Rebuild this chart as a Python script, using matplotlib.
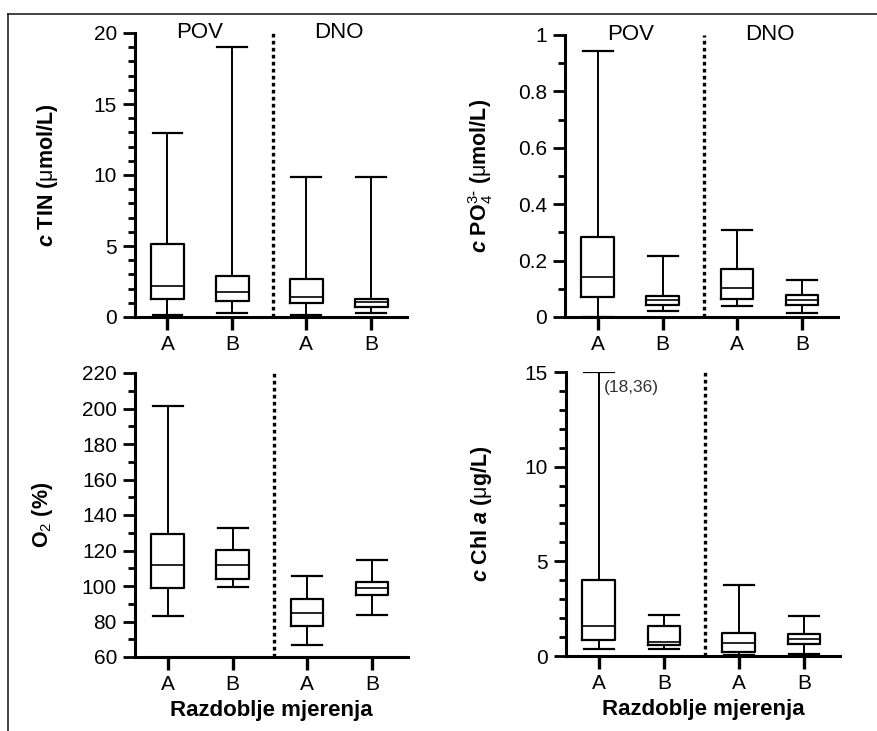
import matplotlib
matplotlib.use("Agg")
import matplotlib.pyplot as plt
from matplotlib.lines import Line2D
from matplotlib.ticker import MultipleLocator, FuncFormatter

plt.rcParams["font.family"] = ["Liberation Sans", "DejaVu Sans"]
plt.rcParams["mathtext.fontset"] = "custom"
plt.rcParams["mathtext.rm"] = "Liberation Sans:bold"
plt.rcParams["mathtext.it"] = "Liberation Sans:italic:bold"
plt.rcParams["mathtext.bf"] = "Liberation Sans:bold"
plt.rcParams["mathtext.sf"] = "Liberation Sans"

# Groups: surface (POV) and bottom (DNO), each with periods A and B
categories = ["A", "B", "A", "B"]
groups = ["POV", "DNO"]

# Box statistics per category: (whisker low, Q1, median, Q3, whisker high)
tin_low = [0.14, 0.30, 0.13, 0.30]
tin_q1 = [1.30, 1.15, 1.00, 0.68]
tin_med = [2.18, 1.74, 1.43, 1.03]
tin_q3 = [5.14, 2.90, 2.70, 1.27]
tin_high = [12.98, 19.00, 9.88, 9.88]

po4_low = [0.00, 0.020, 0.038, 0.014]
po4_q1 = [0.071, 0.044, 0.065, 0.042]
po4_med = [0.142, 0.059, 0.103, 0.059]
po4_q3 = [0.284, 0.076, 0.170, 0.077]
po4_high = [0.943, 0.215, 0.310, 0.130]

o2_low = [83.0, 99.2, 67.0, 83.5]
o2_q1 = [99.0, 104.0, 77.3, 95.2]
o2_med = [111.8, 112.1, 85.0, 99.0]
o2_q3 = [129.1, 120.2, 92.6, 102.3]
o2_high = [201.5, 132.8, 105.5, 114.4]

chl_low = [0.35, 0.39, 0.07, 0.13]
chl_q1 = [0.87, 0.60, 0.21, 0.66]
chl_med = [1.57, 0.74, 0.69, 0.92]
chl_q3 = [4.01, 1.57, 1.19, 1.15]
chl_high = [18.36, 2.19, 3.74, 2.12]

positions = [1.0, 2.0, 3.14, 4.14]
divider_x = 2.63

TICK_FS = 15
LABEL_FS = 15.5
GROUP_FS = 16

W, H = 877, 731
fig = plt.figure(figsize=(W / 100, H / 100), dpi=100)


def px_axes(left, right, top, bottom):
    return fig.add_axes([left / W, 1 - bottom / H, (right - left) / W, (bottom - top) / H])


def draw_panel(ax, low, q1, med, q3, high, ylim, major, minor, ylabel,
               label_x, show_groups=False, xlabel=None, clip_note=False):
    ymin, ymax = ylim
    stats = []
    for lo, a, m, b, hi in zip(low, q1, med, q3, high):
        stats.append(dict(whislo=lo, q1=a, med=m, q3=b, whishi=min(hi, ymax), fliers=[]))
    ax.bxp(stats, positions=positions, widths=0.5, capwidths=0.46,
           showfliers=False, patch_artist=False,
           boxprops=dict(color="black", linewidth=1.6),
           whiskerprops=dict(color="black", linewidth=1.4),
           capprops=dict(color="black", linewidth=1.6),
           medianprops=dict(color="black", linewidth=1.2))
    ax.set_xlim(0.5, 4.69)
    ax.set_ylim(ymin, ymax)
    ax.axvline(divider_x, color="black", linewidth=2.4, linestyle=(0, (1.1, 1.0)),
               clip_on=False)

    for side in ("top", "right"):
        ax.spines[side].set_visible(False)
    for side in ("left", "bottom"):
        ax.spines[side].set_linewidth(2.2)

    ax.yaxis.set_major_locator(MultipleLocator(major))
    ax.yaxis.set_minor_locator(MultipleLocator(minor))
    ax.tick_params(axis="y", which="major", length=9, width=2, labelsize=TICK_FS, pad=4)
    ax.tick_params(axis="y", which="minor", length=5, width=2)
    ax.set_xticks(positions)
    ax.set_xticklabels(categories)
    ax.tick_params(axis="x", which="major", length=9, width=2.4, labelsize=TICK_FS, pad=4)
    ax.tick_params(axis="x", which="minor", length=0)
    ax.yaxis.set_major_formatter(FuncFormatter(lambda v, p: f"{v:g}"))

    ax.set_ylabel(ylabel, fontsize=LABEL_FS, fontweight="bold", va="center")
    ax.yaxis.set_label_coords(label_x, 0.5)

    if show_groups:
        ax.text((positions[0] + positions[1]) / 2, ymax, groups[0], ha="center",
                va="center", fontsize=GROUP_FS)
        ax.text((positions[2] + positions[3]) / 2, ymax, groups[1], ha="center",
                va="center", fontsize=GROUP_FS)
    if xlabel:
        ax.set_xlabel(xlabel, fontsize=16, fontweight="bold", labelpad=4)
    if clip_note:
        for x, hi in zip(positions, high):
            if hi > ymax:
                note = "({:.2f})".format(hi).replace(".", ",")
                ax.annotate(note, (x, ymax), xytext=(4, -11), textcoords="offset points",
                            ha="left", va="center", fontsize=12.5, color="#333333")


ax1 = px_axes(135, 407, 33, 317)
draw_panel(ax1, tin_low, tin_q1, tin_med, tin_q3, tin_high, (0, 20), 5, 1,
           r"$c$ TIN ($\mathsf{\mu}$mol/L)", -0.32, show_groups=True)

ax2 = px_axes(565, 838, 35, 317)
draw_panel(ax2, po4_low, po4_q1, po4_med, po4_q3, po4_high, (0, 1), 0.2, 0.1,
           r"$c$ PO$_\mathsf{4}^\mathsf{3\text{-}}$ ($\mathsf{\mu}$mol/L)", -0.31,
           show_groups=True)

ax3 = px_axes(135, 408, 373, 657)
draw_panel(ax3, o2_low, o2_q1, o2_med, o2_q3, o2_high, (60, 220), 20, 10,
           r"O$_\mathsf{2}$ (%)", -0.337, xlabel="Razdoblje mjerenja")

ax4 = px_axes(566, 840, 372, 656)
draw_panel(ax4, chl_low, chl_q1, chl_med, chl_q3, chl_high, (0, 15), 5, 1,
           r"$c$ Chl $a$ ($\mathsf{\mu}$g/L)", -0.308, xlabel="Razdoblje mjerenja",
           clip_note=True)

# Thin frame along the top and left edges
fig.add_artist(Line2D([8 / W, 1.0], [1 - 14 / H, 1 - 14 / H], transform=fig.transFigure,
                      color="#222222", linewidth=1.2))
fig.add_artist(Line2D([8 / W, 8 / W], [1 - 14 / H, 0.0], transform=fig.transFigure,
                      color="#222222", linewidth=1.2))

fig.savefig("out.png", dpi=100, facecolor="white")
